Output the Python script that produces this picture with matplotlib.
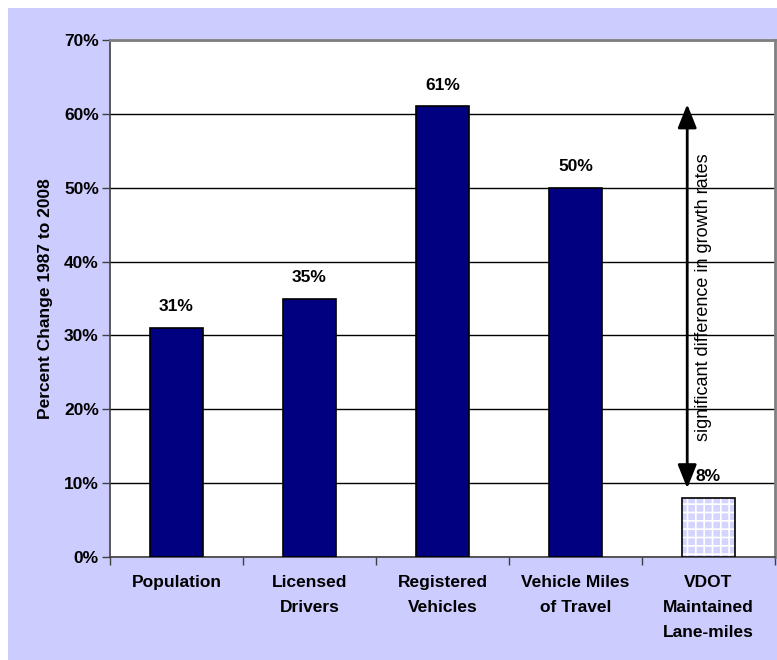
import matplotlib
matplotlib.use("Agg")
import matplotlib.pyplot as plt
import numpy as np

categories = ["Population", "Licensed\nDrivers", "Registered\nVehicles",
              "Vehicle Miles\nof Travel", "VDOT\nMaintained\nLane-miles"]
values = [31, 35, 61, 50, 8]
value_labels = ["31%", "35%", "61%", "50%", "8%"]
yticks = [0, 10, 20, 30, 40, 50, 60, 70]
ytick_labels = ["0%", "10%", "20%", "30%", "40%", "50%", "60%", "70%"]
arrow_span = [61.3, 9.3]
annotation = "significant difference in growth rates"

plt.rcParams['font.family'] = ['Liberation Sans', 'DejaVu Sans']
plt.rcParams['hatch.linewidth'] = 1.2

FS = 12.5
LAV = "#ccccff"
fig = plt.figure(figsize=(7.77, 6.6), dpi=100)
fig.patch.set_facecolor("white")
bg = plt.Rectangle((8/777, 0), 1, 1 - 8/660, transform=fig.transFigure,
                   facecolor=LAV, edgecolor="none", zorder=-10)
fig.patches.append(bg)

ax = fig.add_axes([110/777, 1 - 557/660, 665/777, (557 - 40)/660])
ax.set_facecolor("white")
x = np.arange(len(categories))
w = 0.4
navy = "#000080"
for i, v in enumerate(values):
    if i < 4:
        ax.bar(x[i], v, width=w, color=navy, edgecolor="black", linewidth=1.2, zorder=3)
    else:
        ax.bar(x[i], v, width=w, color="#d4d4ff", edgecolor="white", hatch="++",
               linewidth=0, zorder=3)
        ax.bar(x[i], v, width=w, fill=False, edgecolor="black", linewidth=1.2, zorder=4)
    ax.text(x[i], v + 2.9, value_labels[i], ha="center", va="center",
            fontsize=FS, fontweight="bold", zorder=5)

ax.set_xlim(-0.5, len(categories) - 0.5)
ax.set_ylim(0, 70)
ax.set_yticks(yticks)
ax.set_yticklabels(ytick_labels, fontsize=FS, fontweight="bold")
ax.yaxis.grid(True, color="black", linewidth=1, zorder=0)
ax.set_axisbelow(True)
ax.tick_params(axis="y", direction="out", length=6, width=1, pad=2, color="#404040")

ax.set_xticks(np.arange(-0.5, len(categories) + 0.5, 1))
ax.set_xticklabels([])
ax.tick_params(axis="x", direction="out", length=6, width=1, color="#404040")
ax.set_xticks(x, minor=True)
ax.set_xticklabels(categories, minor=True, fontsize=FS, fontweight="bold",
                   linespacing=1.85, va="top")
ax.tick_params(axis="x", which="minor", length=0, pad=13)

ax.set_ylabel("Percent Change 1987 to 2008", fontsize=FS, fontweight="bold", labelpad=8)

for s in ["top", "right"]:
    ax.spines[s].set_color("#808080")
    ax.spines[s].set_linewidth(2)
for s in ["left", "bottom"]:
    ax.spines[s].set_color("#404040")
    ax.spines[s].set_linewidth(1.2)

ax.annotate("", xy=(3.84, arrow_span[0]), xytext=(3.84, arrow_span[1]),
            arrowprops=dict(arrowstyle="<|-|>,head_length=0.8,head_width=0.32",
                            color="black", lw=2, mutation_scale=18,
                            shrinkA=0, shrinkB=0), zorder=6)
ax.text(3.96, 35.2, annotation, rotation=90, ha="center", va="center",
        fontsize=13, zorder=6)

fig.savefig("out.png", dpi=100, facecolor=fig.get_facecolor())
